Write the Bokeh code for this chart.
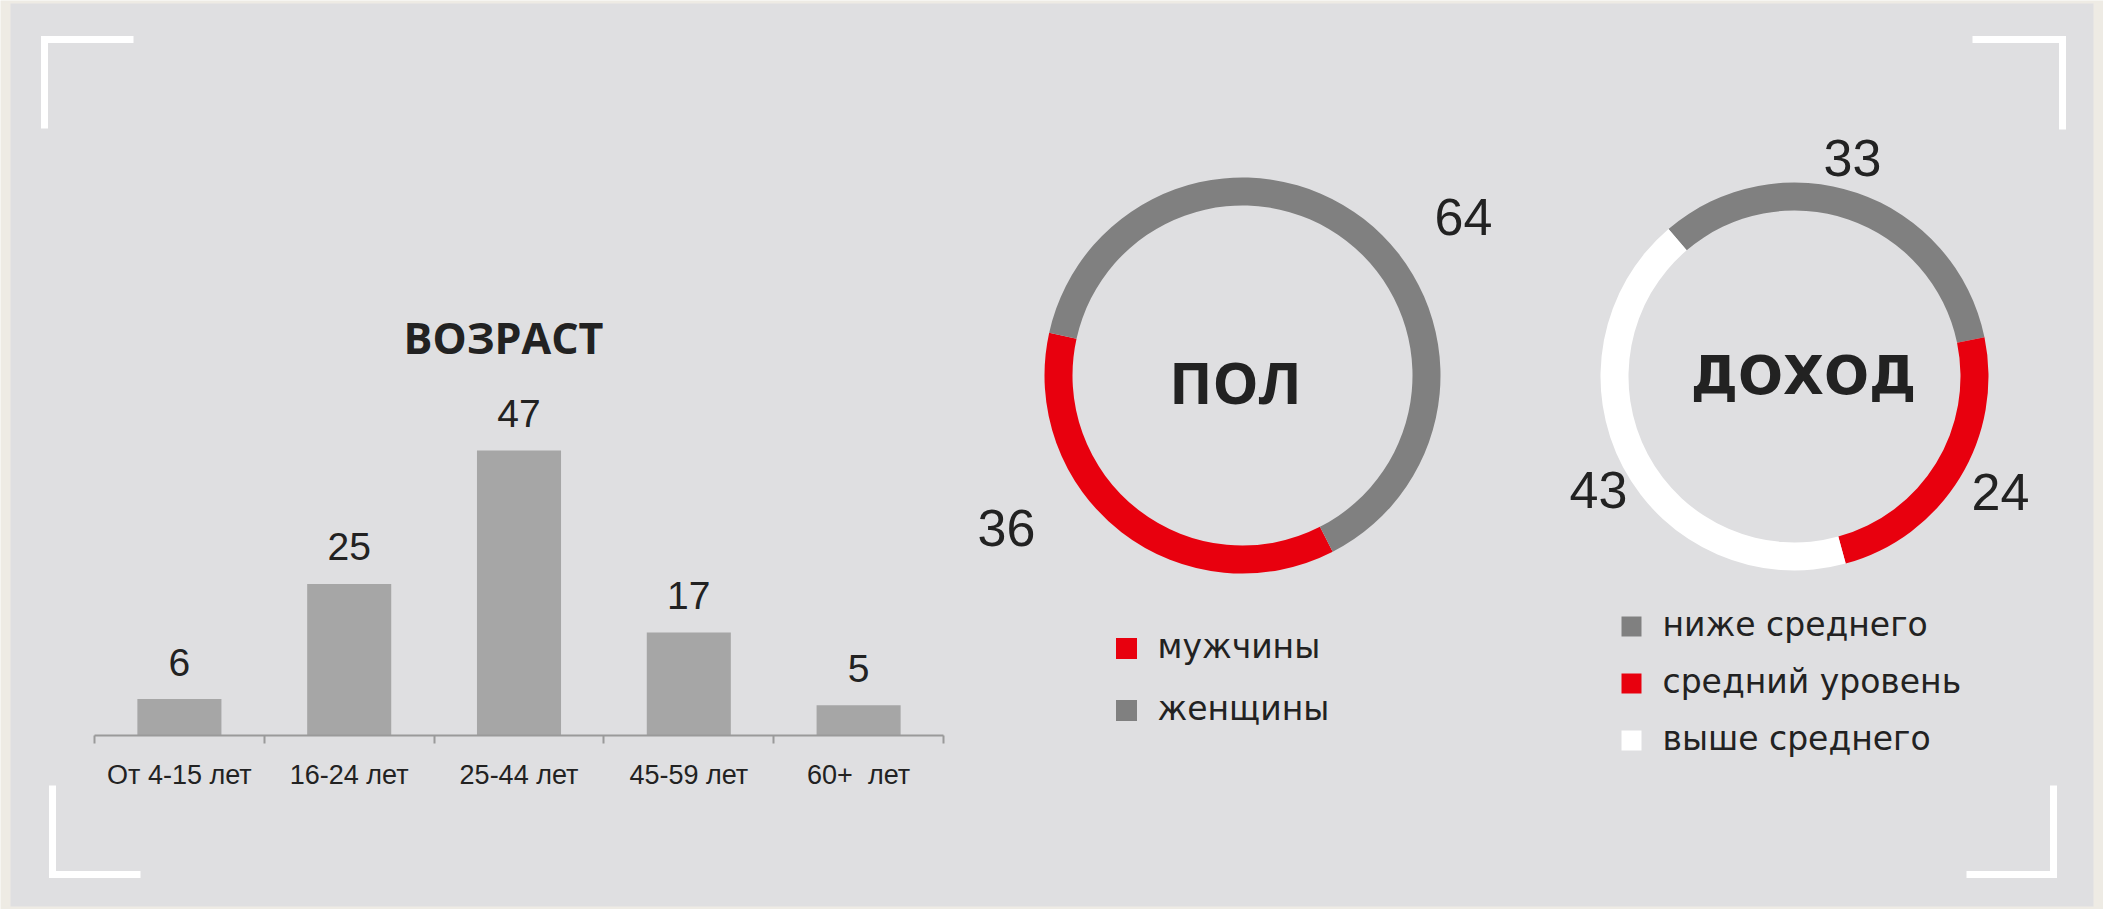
import numpy as np
from bokeh.plotting import figure
from bokeh.models import Range1d, LinearAxis, FixedTicker
from bokeh.core.properties import value
from bokeh.embed import file_html
from bokeh.resources import INLINE

# ---------------- data ----------------
age_categories = ["От 4-15 лет", "16-24 лет", "25-44 лет", "45-59 лет", "60+  лет"]
age_values = [6, 25, 47, 17, 5]

gender_labels = ["мужчины", "женщины"]
gender_values = [36, 64]

income_labels = ["ниже среднего", "средний уровень", "выше среднего"]
income_values = [33, 24, 43]

# ---------------- styles / layout ----------------
RED = "#E8000E"
DGRAY = "#808080"
WHITE = "#FFFFFF"
BAR = "#A6A6A6"
PANEL = "#DFDFE1"
FRAME = "#EEEBE4"
TXT = "#222222"

gender_colors = [RED, DGRAY]
income_colors = [DGRAY, RED, WHITE]

W, H = 2103, 909
OX, OY = 0, 0  # page offset of the figure

p = figure(width=W, height=H,
           x_range=Range1d(OX, OX + W), y_range=Range1d(OY + H, OY),
           output_backend="svg", toolbar_location=None,
           x_axis_type=None, y_axis_type=None, min_border=0,
           background_fill_color=FRAME, border_fill_color=FRAME,
           outline_line_color=None)

# panel
p.quad(left=[10], right=[2093], top=[3], bottom=[906],
       fill_color=PANEL, line_color=None)

# corner brackets
p.multi_line(xs=[[133, 44, 44], [1972, 2062, 2062], [52, 52, 140], [2053, 2053, 1966]],
             ys=[[39, 39, 128], [39, 39, 129], [785, 874, 874], [785, 874, 874]],
             line_color=WHITE, line_width=7, line_join="miter")

# ---------------- bar chart ----------------
ax_left, ax_right, ax_base, top47 = 94, 943, 735, 450
n = len(age_categories)
ppu_x = (ax_right - ax_left) / n
ppu_y = (ax_base - top47) / max(age_values)
p.extra_x_ranges = {"bx": Range1d(-0.5 - (ax_left - OX) / ppu_x,
                                  n - 0.5 + (OX + W - ax_right) / ppu_x)}
p.extra_y_ranges = {"by": Range1d(-(OY + H - ax_base) / ppu_y,
                                  (ax_base - OY) / ppu_y)}

idx = list(range(n))
p.vbar(x=idx, top=age_values, bottom=0, width=0.495,
       x_range_name="bx", y_range_name="by",
       fill_color=BAR, line_color=None)

p.text(x=idx, y=age_values, text=[str(v) for v in age_values],
       x_range_name="bx", y_range_name="by",
       text_align="center", text_baseline="alphabetic", y_offset=-37,
       text_font=value("Liberation Sans"), text_font_size="39px",
       text_color=TXT)

ax = LinearAxis(x_range_name="bx", y_range_name="by", fixed_location=0,
                ticker=FixedTicker(ticks=idx, minor_ticks=[i - 0.5 for i in range(n + 1)]),
                bounds=(-0.5, n - 0.5),
                major_label_overrides={i: c.replace("  ", "\u00a0 ")
                                       for i, c in enumerate(age_categories)},
                axis_line_color="#9A9A9A", axis_line_width=2,
                major_tick_in=0, major_tick_out=0,
                minor_tick_in=0, minor_tick_out=8,
                minor_tick_line_color="#9A9A9A", minor_tick_line_width=2,
                major_label_standoff=16,
                major_label_text_font="Liberation Sans",
                major_label_text_font_size="27px",
                major_label_text_color=TXT)
p.add_layout(ax, "below")

p.text(x=[503], y=[337], text=["ВОЗРАСТ"], text_align="center",
       text_baseline="middle", text_font=value("Open Sans"),
       text_font_style="bold", text_font_size="43px", text_color=TXT)

# ---------------- donuts ----------------
def ring(vals, start_deg, clockwise):
    v = np.asarray(vals, dtype=float)
    fr = v / v.sum() * 2 * np.pi
    a0 = np.deg2rad(start_deg)
    before = np.concatenate([[0], np.cumsum(fr)[:-1]])
    if clockwise:
        ends = a0 - before
        starts = ends - fr
    else:
        starts = a0 + before
        ends = starts + fr
    return starts, ends

# ПОЛ
g_cx, g_cy = 1242, 375
gs, ge = ring(gender_values, 167.5, clockwise=False)
p.annular_wedge(x=g_cx, y=g_cy, inner_radius=170, outer_radius=198,
                inner_radius_units="screen", outer_radius_units="screen",
                start_angle=gs, end_angle=ge, direction="anticlock",
                fill_color=gender_colors, line_color=None)
p.text(x=[1235], y=[381], text=["ПОЛ"], text_align="center", text_baseline="middle",
       text_font=value("Open Sans"), text_font_style="bold", text_font_size="58px",
       text_color=TXT)
g_label_pos = [(1006, 527), (1463, 216)]
p.text(x=[q[0] for q in g_label_pos], y=[q[1] for q in g_label_pos],
       text=[str(v) for v in gender_values], text_align="center", text_baseline="middle",
       text_font=value("Liberation Sans"), text_font_size="52px", text_color=TXT)
g_leg_y = [648 + 62 * i for i in range(len(gender_labels))]
p.scatter(x=[1126] * len(gender_labels), y=g_leg_y, marker="square", size=21,
          fill_color=gender_colors, line_color=None)
p.text(x=[1157] * len(gender_labels), y=[y - 2 for y in g_leg_y], text=gender_labels,
       text_align="left", text_baseline="middle",
       text_font=value("DejaVu Sans"), text_font_size="33px", text_color=TXT)

# ДОХОД
i_cx, i_cy = 1794, 376
is_, ie = ring(income_values, 130.5, clockwise=True)
p.annular_wedge(x=i_cx, y=i_cy, inner_radius=166, outer_radius=194,
                inner_radius_units="screen", outer_radius_units="screen",
                start_angle=is_, end_angle=ie, direction="anticlock",
                fill_color=income_colors, line_color=None)
p.text(x=[1803], y=[375], text=["ДОХОД"], text_align="center", text_baseline="middle",
       text_font=value("DejaVu Sans"), text_font_style="bold", text_font_size="53px",
       text_color=TXT)
i_label_pos = [(1852, 157), (2000, 491), (1598, 489)]
p.text(x=[q[0] for q in i_label_pos], y=[q[1] for q in i_label_pos],
       text=[str(v) for v in income_values], text_align="center", text_baseline="middle",
       text_font=value("Liberation Sans"), text_font_size="52px", text_color=TXT)
i_leg_y = [626, 683, 740]
p.scatter(x=[1631] * len(income_labels), y=i_leg_y, marker="square", size=20,
          fill_color=income_colors, line_color=None)
p.text(x=[1662] * len(income_labels), y=[y - 2 for y in i_leg_y], text=income_labels,
       text_align="left", text_baseline="middle",
       text_font=value("DejaVu Sans"), text_font_size="33px", text_color=TXT)

open("out.html", "w").write(file_html(p, INLINE))
